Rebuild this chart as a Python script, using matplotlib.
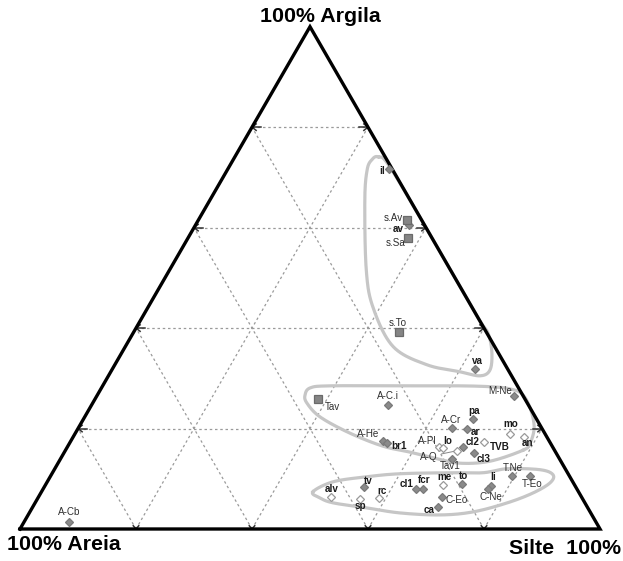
import matplotlib
matplotlib.use("Agg")
import matplotlib.pyplot as plt
import numpy as np

# sample names, clay % and silt % (sand = 100 - clay - silt)
names = ["il", "s.Av", "av", "s.Sa", "s.To", "va", "M-Ne", "Tav", "A-C.i", "pa",
         "A-Cr", "ar", "mo", "an", "A-He", "br1", "A-Pl", "lo", "cl2", "A-Q",
         "TVB", "cl3", "Tav1", "T.Ne", "T-Eo", "li", "C-Ne", "to", "me", "fcr",
         "cl1", "C-Eo", "ca", "tv", "rc", "sp", "alv", "A-Cb"]
clay = [71.7, 61.6, 60.6, 57.9, 39.2, 31.9, 26.5, 25.9, 24.6, 21.9,
        20.2, 19.9, 18.9, 18.3, 17.5, 17.2, 16.4, 16.2, 16.4, 15.6,
        17.3, 15.1, 13.9, 10.6, 10.6, 8.6, 7.9, 8.9, 8.7, 7.9,
        7.9, 6.4, 4.4, 8.3, 6.1, 6.0, 6.3, 1.3]
silt = [27.8, 35.9, 36.7, 38.0, 45.7, 62.5, 72.0, 38.5, 51.1, 67.1,
        64.3, 67.2, 75.1, 77.8, 53.8, 54.6, 64.1, 64.8, 68.1, 67.6,
        71.4, 70.7, 67.6, 79.6, 82.7, 76.9, 76.7, 71.8, 68.6, 65.6,
        64.3, 69.5, 69.9, 55.2, 58.9, 55.6, 50.5, 7.8]
# marker kind: f = filled diamond, o = open diamond, s = square
kind = ["f", "s", "f", "s", "s", "f", "f", "s", "f", "f",
        "f", "f", "o", "o", "f", "f", "o", "o", "f", "o",
        "o", "f", "f", "f", "f", "f", "f", "f", "o", "f",
        "f", "f", "f", "f", "o", "o", "o", "f"]
bold = {"il", "av", "va", "pa", "ar", "mo", "an", "br1", "lo", "cl2", "TVB",
        "cl3", "tv", "rc", "alv", "sp", "cl1", "fcr", "me", "to", "li", "ca"}

# label placement: (dx px, dy px down, ha)
lab_pos = {
    "il": (-4, 2, "right"), "s.Av": (-4, -2, "right"), "av": (-5, 4, "right"),
    "s.Sa": (-3, 5, "right"), "s.To": (-1, -9, "center"), "va": (2, -8, "center"),
    "M-Ne": (-2, -5, "right"), "Tav": (6, 8, "left"), "A-C.i": (0, -9, "center"),
    "pa": (1, -8, "center"), "A-Cr": (0, -8, "center"), "ar": (3, 3, "left"),
    "mo": (0, -10, "center"), "an": (3, 6, "center"), "A-He": (-3, -7, "right"),
    "br1": (5, 3, "left"), "A-Pl": (-3, -6, "right"), "lo": (0, -7, "left"),
    "cl2": (3, -5, "left"), "A-Q": (-20, 6, "right"), "TVB": (6, 5, "left"),
    "cl3": (3, 6, "left"), "Tav1": (-2, 7, "center"), "T.Ne": (0, -8, "center"),
    "T-Eo": (2, 8, "center"), "li": (2, -9, "center"), "C-Ne": (3, 8, "center"),
    "to": (1, -8, "center"), "me": (1, -8, "center"), "fcr": (1, -9, "center"),
    "cl1": (-9, -5, "center"), "C-Eo": (4, 3, "left"), "ca": (-4, 3, "right"),
    "tv": (4, -6, "center"), "rc": (3, -7, "center"), "sp": (1, 7, "center"),
    "alv": (1, -8, "center"), "A-Cb": (0, -10, "center"),
}

# grouping outlines as (clay, silt) control points
group1 = [(74.1, 24.7), (72.3, 27.5), (60, 40), (50, 50), (41.6, 58.4), (39.0, 61.2),
          (35.3, 63.7), (31.7, 65.2), (30.5, 64.1), (31.3, 60.2), (32.7, 53.8),
          (36.3, 46.2), (44.0, 38.9), (51.6, 33.9), (65.5, 26.7), (71.5, 24.1),
          (73.5, 23.9)]
group2 = [(15.7, 78.9), (13.5, 74.3), (13.1, 69.3), (14.1, 64.5), (15.3, 59.6),
          (16.5, 54.3), (19.1, 47.3), (22.3, 40.6), (25.1, 36.9), (26.7, 35.8),
          (28.1, 36.0), (28.5, 39.2), (28.5, 51.3), (28.5, 61.6), (28.3, 67.4),
          (27.9, 70.5), (26.9, 73.1), (24.1, 75.9), (20.3, 78.5), (17.1, 79.4)]
group3 = [(7.4, 46.8), (9.4, 49.3), (10.4, 54.6), (11.0, 60.0), (11.2, 68.5),
          (11.2, 74.2), (12.0, 78.0), (11.8, 83.8), (10.8, 86.5), (9.2, 86.8),
          (7.2, 84.9), (5.2, 81.4), (3.4, 76.4), (2.8, 71.0), (3.2, 63.9),
          (4.2, 57.7), (5.2, 51.4), (6.2, 48.6)]

levels = [20, 40, 60, 80]

H = np.sqrt(3) / 2
PX = 1 / 580.0


def tern(c, s):
    c = np.asarray(c, float) / 100
    s = np.asarray(s, float) / 100
    return s + c / 2, c * H


def smooth_closed(pts, n=24):
    P = np.array(pts)
    N = len(P)
    t = np.linspace(0, 1, n, endpoint=False)[:, None]
    out = []
    for i in range(N):
        p0, p1, p2, p3 = P[i - 1], P[i], P[(i + 1) % N], P[(i + 2) % N]
        out.append(0.5 * (2 * p1 + (-p0 + p2) * t
                          + (2 * p0 - 5 * p1 + 4 * p2 - p3) * t ** 2
                          + (-p0 + 3 * p1 - 3 * p2 + p3) * t ** 3))
    out = np.vstack(out)
    return np.vstack([out, out[:1]])


fig = plt.figure(figsize=(6.23, 5.61), dpi=100)
ax = fig.add_axes([0, 0, 1, 1])
ax.set_xlim(-20 * PX, 603 * PX)
ax.set_ylim(-32 * PX, 529 * PX)
ax.set_aspect("equal")
ax.axis("off")
plt.rcParams["font.family"] = ["Liberation Sans", "DejaVu Sans"]

# dashed grid
for v in levels:
    gl = dict(color="#9a9a9a", lw=0.9, ls=(0, (2, 2.2)), zorder=1)
    ax.plot(*tern([v, v], [0, 100 - v]), **gl)            # constant clay
    ax.plot(*tern([0, 100 - v], [v, v]), **gl)            # constant silt
    ax.plot(*tern([0, 100 - v], [100 - v, 0]), **gl)      # constant sand


# chevrons at grid ends
def chevron(p, d, L=6 * PX, ang=38, shaft=0.0):
    d = np.array(d) / np.linalg.norm(d)
    p = np.array(p)
    for a in (ang, -ang):
        r = np.radians(a)
        R = np.array([[np.cos(r), -np.sin(r)], [np.sin(r), np.cos(r)]])
        q = p - L * (R @ d)
        ax.plot([q[0], p[0]], [q[1], p[1]], color="#333333", lw=1.1,
                solid_capstyle="butt", zorder=4)
    if shaft:
        q = p - shaft * d
        ax.plot([q[0], p[0]], [q[1], p[1]], color="#333333", lw=1.1, zorder=4)


for v in levels:
    chevron(tern(v, 0), (-1, 0), shaft=9 * PX)
    chevron(tern(v, 100 - v), (1, 0), shaft=9 * PX)
    chevron(tern(0, v), (0, -1), L=5 * PX, ang=40)

# group outlines
for g in (group1, group2, group3):
    gc, gs = zip(*g)
    xy = np.column_stack(tern(gc, gs))
    sm = smooth_closed(xy)
    ax.plot(sm[:, 0], sm[:, 1], color="#c6c6c6", lw=2.3, zorder=2)

# triangle frame
tx, ty = tern([0, 100, 0, 0], [0, 0, 100, 0])
ax.plot(tx, ty, color="black", lw=2.4, solid_joinstyle="miter", zorder=5)

# points
px_, py_ = tern(clay, silt)
for k, mk, fc, ec, ms in [("f", "D", "#8a8a8a", "#7a7a7a", 4.5),
                          ("o", "D", "white", "#9a9a9a", 4.5),
                          ("s", "s", "#858585", "#6a6a6a", 5.6)]:
    idx = [i for i, kk in enumerate(kind) if kk == k]
    ax.plot(px_[idx], py_[idx], ls="none", marker=mk, ms=ms, mfc=fc, mec=ec,
            mew=0.9, zorder=6)

for i, n in enumerate(names):
    dx, dy, ha = lab_pos[n]
    isb = n in bold
    kw = {}
    if n == "A-Q":
        kw["arrowprops"] = dict(arrowstyle="-", color="#888888", lw=0.7,
                                shrinkA=1, shrinkB=3)
    ax.annotate(n, (px_[i], py_[i]), xytext=(dx * 0.72, -dy * 0.72),
                textcoords="offset points", ha=ha, va="center",
                fontsize=7.1, fontweight="bold" if isb else "normal",
                color="#1a1a1a" if isb else "#2e2e2e", zorder=7, **kw)

# corner titles
ax.text(300 * PX, 512 * PX, "100% Argila", ha="center", va="center",
        fontsize=15.4, fontweight="bold")
ax.text(-13 * PX, -16 * PX, "100% Areia", ha="left", va="center",
        fontsize=15.4, fontweight="bold")
ax.text(601 * PX, -19 * PX, "Silte  100%", ha="right", va="center",
        fontsize=15.4, fontweight="bold")

fig.savefig("out.png", dpi=100)
